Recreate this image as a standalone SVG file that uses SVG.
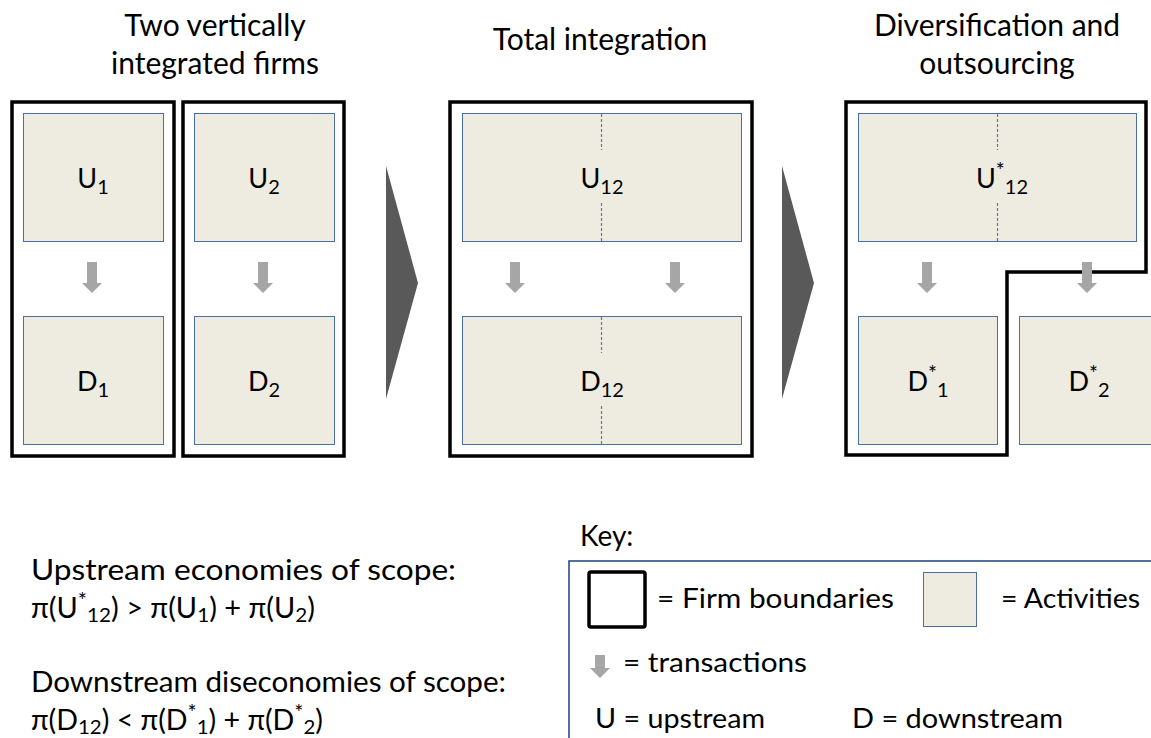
<svg xmlns="http://www.w3.org/2000/svg" width="1151" height="738" viewBox="0 0 1151 738">
<style>
  text { font-family: Lato, "Open Sans", "Liberation Sans", sans-serif; fill: #000; }
  .title { font-size: 30px; text-anchor: middle; }
  .lbl { font-size: 27px; text-anchor: middle; }
  .body { font-size: 28px; }
  .key { font-size: 26px; }
  .firm { fill: none; stroke: #000; stroke-width: 3.5; stroke-linejoin: miter; }
  .act { fill: #EEECE1; stroke: #4A6FA5; stroke-width: 1; }
  .dash { stroke: #4A7EBB; stroke-width: 1.2; stroke-dasharray: 3 2; fill: none; }
  .tx { fill: #A6A6A6; }
  .big { fill: #595959; }
</style>
<defs>
  <path id="arr" d="M-5,0 H5 V21 H10 L0,31 L-10,21 H-5 Z"/>
</defs>

<g id="titles">
  <text class="title" x="215" y="36">Two vertically</text>
  <text class="title" x="215" y="74">integrated firms</text>
  <text class="title" x="600" y="50">Total integration</text>
  <text class="title" x="997" y="36">Diversification and</text>
  <text class="title" x="997" y="74">outsourcing</text>
</g>

<g id="firm1">
  <rect class="firm" x="12" y="102" width="162" height="354"/>
</g>
<g id="firm2">
  <rect class="firm" x="183" y="102" width="161" height="354"/>
</g>
<g id="firm12">
  <rect class="firm" x="450" y="102" width="302" height="354"/>
</g>
<g id="firmStar">
  <path class="firm" d="M846,102 H1146 V272 H1007 V455 H846 Z"/>
</g>

<g id="U1">
  <rect class="act" x="23.5" y="113.5" width="140" height="128"/>
  <text class="lbl" x="93" y="188">U<tspan font-size="20" dy="6">1</tspan></text>
</g>
<g id="D1">
  <rect class="act" x="23.5" y="316.5" width="140" height="128"/>
  <text class="lbl" x="93" y="391">D<tspan font-size="20" dy="6">1</tspan></text>
</g>
<g id="U2">
  <rect class="act" x="194.5" y="113.5" width="140" height="128"/>
  <text class="lbl" x="264" y="188">U<tspan font-size="20" dy="6">2</tspan></text>
</g>
<g id="D2">
  <rect class="act" x="194.5" y="316.5" width="140" height="128"/>
  <text class="lbl" x="264" y="391">D<tspan font-size="20" dy="6">2</tspan></text>
</g>

<g id="U12">
  <rect class="act" x="462.5" y="113.5" width="279" height="128"/>
  <line class="dash" x1="601.5" y1="114" x2="601.5" y2="150"/>
  <line class="dash" x1="601.5" y1="203" x2="601.5" y2="241"/>
  <text class="lbl" x="602" y="188">U<tspan font-size="20" dy="6">12</tspan></text>
</g>
<g id="D12">
  <rect class="act" x="462.5" y="316.5" width="279" height="128"/>
  <line class="dash" x1="601.5" y1="317" x2="601.5" y2="353"/>
  <line class="dash" x1="601.5" y1="406" x2="601.5" y2="444"/>
  <text class="lbl" x="602" y="391">D<tspan font-size="20" dy="6">12</tspan></text>
</g>

<g id="Ustar12">
  <rect class="act" x="858.5" y="113.5" width="278" height="128"/>
  <line class="dash" x1="997.5" y1="114" x2="997.5" y2="150"/>
  <line class="dash" x1="997.5" y1="203" x2="997.5" y2="241"/>
  <text class="lbl" x="1002" y="188">U<tspan font-size="21" dy="-10">*</tspan><tspan font-size="20" dy="16">12</tspan></text>
</g>
<g id="Dstar1">
  <rect class="act" x="858.5" y="316.5" width="139" height="128"/>
  <text class="lbl" x="928" y="391">D<tspan font-size="21" dy="-10">*</tspan><tspan font-size="20" dy="16">1</tspan></text>
</g>
<g id="Dstar2">
  <rect class="act" x="1019.5" y="316.5" width="139" height="128"/>
  <text class="lbl" x="1089" y="391">D<tspan font-size="21" dy="-10">*</tspan><tspan font-size="20" dy="16">2</tspan></text>
</g>

<g id="stage-arrows">
  <polygon class="big" points="386,166 418,283 386,399"/>
  <polygon class="big" points="782,166 814,283 782,399"/>
</g>

<g id="connectors">
  <use href="#arr" class="tx" x="92" y="262"/>
  <use href="#arr" class="tx" x="263" y="262"/>
  <use href="#arr" class="tx" x="515" y="262"/>
  <use href="#arr" class="tx" x="675" y="262"/>
  <use href="#arr" class="tx" x="927" y="262"/>
  <use href="#arr" class="tx" x="1087" y="262"/>
</g>

<g id="scope-text">
  <text class="body" x="31" y="580" textLength="425" lengthAdjust="spacingAndGlyphs">Upstream economies of scope:</text>
  <text class="body" x="31" y="618" textLength="284" lengthAdjust="spacingAndGlyphs">π(U<tspan font-size="21" dy="-10">*</tspan><tspan font-size="20" dy="14">12</tspan><tspan dy="-4">) &gt; π(U</tspan><tspan font-size="20" dy="4">1</tspan><tspan dy="-4">) + π(U</tspan><tspan font-size="20" dy="4">2</tspan><tspan dy="-4">)</tspan></text>
  <text class="body" x="31" y="692" textLength="475" lengthAdjust="spacingAndGlyphs">Downstream diseconomies of scope:</text>
  <text class="body" x="31" y="730" textLength="292" lengthAdjust="spacingAndGlyphs">π(D<tspan font-size="20" dy="4">12</tspan><tspan dy="-4">) &lt; π(D</tspan><tspan font-size="21" dy="-10">*</tspan><tspan font-size="20" dy="14">1</tspan><tspan dy="-4">) + π(D</tspan><tspan font-size="21" dy="-10">*</tspan><tspan font-size="20" dy="14">2</tspan><tspan dy="-4">)</tspan></text>
</g>

<g id="key">
  <text class="body" x="580" y="546">Key:</text>
  <rect x="569" y="561" width="600" height="200" fill="none" stroke="#1F3F7F" stroke-width="1.5"/>
  <rect x="589" y="572" width="56" height="55" rx="2" fill="none" stroke="#000" stroke-width="3.5"/>
  <text class="key" x="657" y="608" textLength="237" lengthAdjust="spacingAndGlyphs">= Firm boundaries</text>
  <rect class="act" x="923.5" y="572.5" width="53" height="54"/>
  <text class="key" x="1001" y="608" textLength="139" lengthAdjust="spacingAndGlyphs">= Activities</text>
  <path class="tx" d="M595,655 H605 V668 H610 L600,678 L590,668 H595 Z"/>
  <text class="key" x="623" y="672" textLength="184" lengthAdjust="spacingAndGlyphs">= transactions</text>
  <text class="key" x="595" y="728" textLength="170" lengthAdjust="spacingAndGlyphs">U = upstream</text>
  <text class="key" x="852" y="728" textLength="211" lengthAdjust="spacingAndGlyphs">D = downstream</text>
</g>
</svg>
